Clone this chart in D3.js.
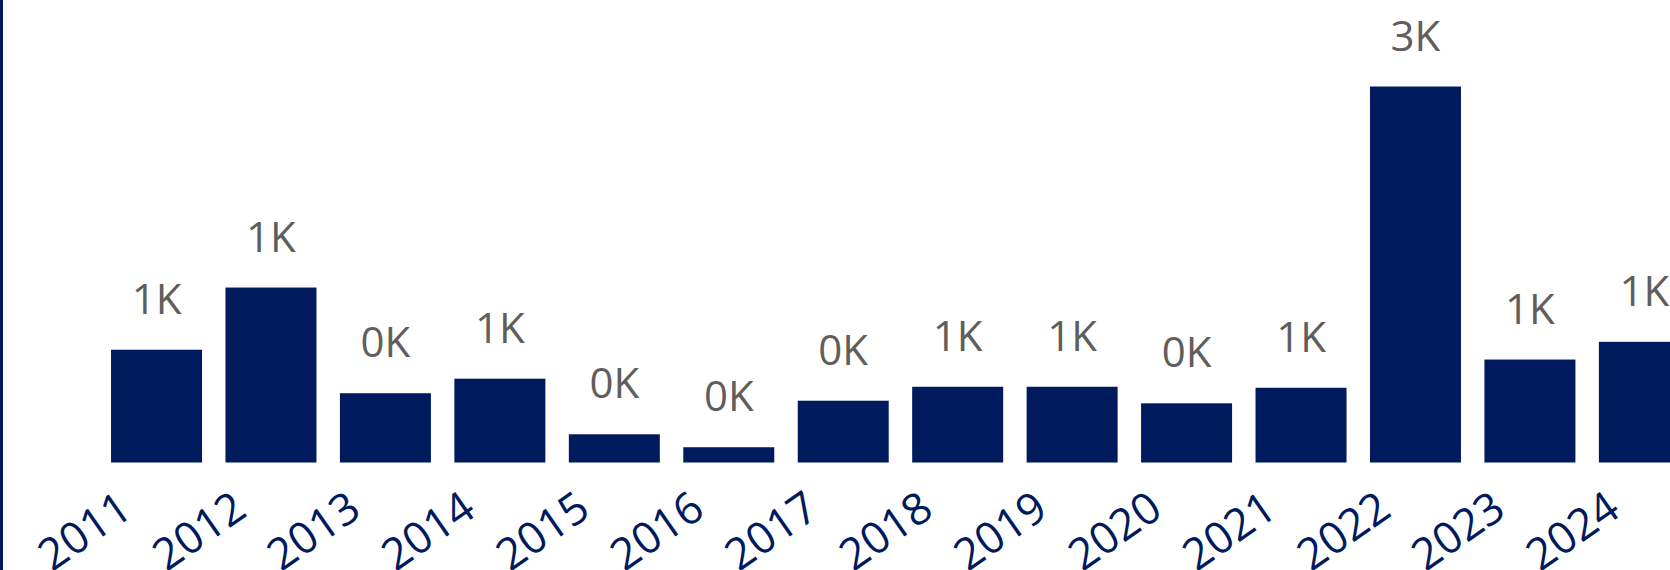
<!DOCTYPE html>
<html>

<head>
    <meta charset="utf-8">
    <script src="https://d3js.org/d3.v7.min.js"></script>

    <style type="text/css">
        body {
            margin: 0;
            overflow: hidden;
            background: white;
        }

        .axis text {
            font-family: "Segoe UI", "Open Sans", sans-serif;
            font-size: 44px;
            fill: #001A5E;
        }

        .label {
            font-family: "Segoe UI", "Open Sans", sans-serif;
            font-size: 42px;
            fill: #605E5C;
        }

        .bar {
            fill: #001A5E;
        }
    </style>
</head>

<body>
    <script>
        // data
        var years = ["2011", "2012", "2013", "2014", "2015", "2016", "2017",
            "2018", "2019", "2020", "2021", "2022", "2023", "2024"];
        var counts = [783, 1215, 481, 582, 196, 106, 429, 526, 526, 411, 519, 2611, 715, 838];
        var yDomain = [0, 2700];

        var width = 1670;
        var height = 570;
        var baseline = 462.5;

        var data = years.map(function (y, i) { return { year: y, value: counts[i] }; });

        var svg = d3.select("body")
            .append("svg")
            .attr("width", width)
            .attr("height", height);

        // X Scale
        var x_scale = d3.scaleBand()
            .domain(years)
            .range([99.3, 1701.6])
            .paddingInner(0.205)
            .paddingOuter(0.1025);

        // Y Scale
        var y_scale = d3.scaleLinear()
            .domain(yDomain)
            .range([baseline, baseline - 2700 * 0.144]);

        // bars
        svg.selectAll("rect.bar")
            .data(data)
            .enter()
            .append("rect")
            .attr("class", "bar")
            .attr("x", function (d) { return x_scale(d.year); })
            .attr("y", function (d) { return y_scale(d.value); })
            .attr("width", x_scale.bandwidth())
            .attr("height", function (d) { return baseline - y_scale(d.value); });

        // data labels
        var fmt = function (v) { return Math.round(v / 1000) + "K"; };
        svg.selectAll("text.label")
            .data(data)
            .enter()
            .append("text")
            .attr("class", "label")
            .attr("text-anchor", "middle")
            .attr("x", function (d) { return x_scale(d.year) + x_scale.bandwidth() / 2; })
            .attr("y", function (d) { return y_scale(d.value) - 36; })
            .text(function (d) { return fmt(d.value); });

        // X Axis
        var x_axis = d3.axisBottom(x_scale).tickSize(0);
        var gx = svg.append("g")
            .attr("class", "x axis")
            .attr("transform", "translate(0," + baseline + ")")
            .call(x_axis);
        gx.select(".domain").remove();
        gx.selectAll("text")
            .attr("x", 0)
            .attr("y", 0)
            .attr("dy", 0)
            .attr("text-anchor", "end")
            .attr("transform", "translate(-22,52) rotate(-35)");

        // left border
        svg.append("rect")
            .attr("x", 0)
            .attr("y", 0)
            .attr("width", 3)
            .attr("height", height)
            .attr("fill", "#001A5E");
    </script>
</body>

</html>
